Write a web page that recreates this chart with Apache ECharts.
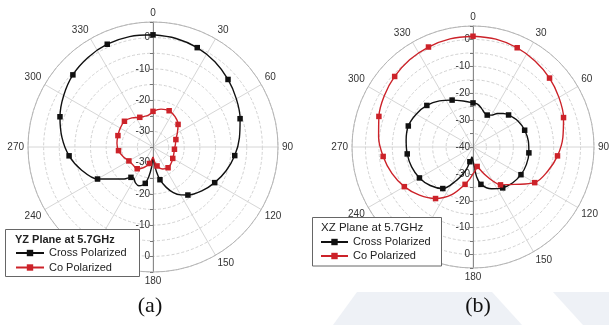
<!DOCTYPE html>
<html><head><meta charset="utf-8">
<script src="https://cdn.jsdelivr.net/npm/echarts@6/dist/echarts.min.js"></script>
<style>html,body{margin:0;padding:0;background:#fff}#c{width:609px;height:325px}</style>
</head><body><div id="c"></div>
<script>
// ---- Data (dB vs angle in degrees) ----
const angleTicks = [0,30,60,90,120,150,180,210,240,270,300,330];
const radialLabelsA = [-30,-20,-10,0];
const radialLabelsB = [-40,-30,-20,-10,0];

// (a) YZ plane
const yzCrossAngles = [0,12,24,36,48,60,72,84,96,108,120,132,144,150,156,162,168,172,176,180,184,188,192,196,200,206,212,216,222,231,240,252,264,276,288,300,312,324,336,348,360];
const yzCrossDb     = [0.9,0.5,-0.2,-1.3,-2.7,-4.2,-5.7,-7.2,-8.7,-10.4,-12.2,-14,-16,-17.3,-19,-21.5,-24.3,-27,-30,-31.5,-28.5,-25.5,-23.1,-22.2,-21.8,-22.2,-23.3,-23,-21.2,-18.7,-14.5,-11,-8,-5.7,-3.7,-2,-0.5,0.4,1.0,1.1,0.9];
const yzCoAngles = [0,12,24,36,48,60,72,84,96,108,120,132,144,156,168,174,180,186,192,200,208,216,228,240,252,264,276,288,300,312,324,336,344,350,356,360];
const yzCoDb     = [-23.6,-22.6,-22.3,-23,-24.2,-26,-27.3,-27.8,-28.1,-28,-27.7,-27.2,-26.8,-27.3,-28.8,-30.2,-31.7,-30.8,-29.6,-28.4,-27.3,-26.4,-26.4,-26.1,-25,-23.9,-23.4,-23.2,-22.9,-22.7,-23.5,-24.6,-24.8,-24.8,-24.3,-23.6];

// (b) XZ plane
const xzCrossAngles = [0,6,12,18,24,30,36,42,48,60,72,84,96,108,120,132,144,156,168,173,176,180,186,190,192,196,200,206,216,228,240,252,264,276,288,300,312,324,336,348,360];
const xzCrossDb     = [-23.6,-24,-25.2,-26.5,-27,-26.3,-24.6,-23.2,-22.2,-20.7,-19.8,-19.3,-19.1,-19.1,-19.4,-20.1,-21.2,-23,-25.8,-28.8,-32.6,-34.8,-36.3,-35,-34.4,-31.6,-29.5,-26.3,-20.9,-18.6,-17,-16,-15.4,-15,-14.7,-15.6,-16.9,-18.8,-20.9,-22.5,-23.6];
const xzCoAngles = [0,12,24,36,48,60,72,84,96,108,120,132,144,150,156,162,168,172,176,180,186,192,204,216,228,240,252,264,276,288,300,312,324,336,348,360];
const xzCoDb     = [1.2,1.0,0.4,-0.6,-1.7,-3.1,-4.6,-6.4,-8.4,-10.8,-13.5,-19.2,-22.6,-25.5,-28.5,-31,-32.6,-31.8,-30.8,-30,-28,-25.8,-20.6,-16.3,-13.2,-10.5,-8.3,-6.4,-4.7,-3.2,-1.9,-0.8,0.1,0.7,1.1,1.2];

const seriesNames = ['Cross Polarized','Co Polarized'];
const legendTitles = ['YZ Plane at 5.7GHz','XZ Plane at 5.7GHz'];
const captions = ['(a)','(b)'];

// ---- Build ----
const FONT = '"Liberation Sans", Arial, sans-serif';
const BLACK = '#111111', RED = '#cc2229';
function pairs(angles, vals){ return angles.map((a,i)=>[vals[i], a]); }
function markSize(v){ return (v[1] % 24 === 0 && v[1] < 360) ? 5.5 : 0; }

function angleAxis(pi, show, start){
  return {
    polarIndex: pi, type:'value', min:0, max:360, interval:30, startAngle:start, clockwise:true, show: show,
    axisLine:{show:true, lineStyle:{color:'#b5b5b5', width:1}},
    axisTick:{show:false},
    axisLabel:{show:true, margin:4, color:'#333', fontSize:10, fontFamily:FONT,
      formatter: v => angleTicks.includes(v) ? String(v) : ''},
    splitLine:{show:true, lineStyle:{color:'#d6d6d6', width:1}}
  };
}
function radiusAxis(pi, min, max, labels, bottom, grid){
  return {
    polarIndex: pi, type:'value', min:min, max:max, interval:5,
    axisLine:{show:true, lineStyle:{color:'#8a8a8a', width:1}},
    axisTick:{show:true, length: bottom ? -3 : 3, lineStyle:{color:'#777'}},
    axisLabel:{show:true, margin: bottom ? -3 : 3, align:'right', verticalAlign:'middle', color:'#333', fontSize:10, fontFamily:FONT,
      formatter: v => (labels.includes(v) && !(bottom && v===min)) ? String(v) : ''},
    splitLine:{show:grid, lineStyle:{color:'#d2d2d2', type:[3,2], width:1}}
  };
}
function lineSeries(name, pi, data, color){
  return {
    name:name, type:'line', coordinateSystem:'polar', polarIndex:pi, data:data,
    smooth:0.35, symbol:'rect', symbolSize: markSize, showAllSymbol:true,
    lineStyle:{color:color, width:1.4}, itemStyle:{color:color}, z:5, animation:false
  };
}

const option = {
  animation:false,
  backgroundColor:'#fff',
  polar:[
    {center:[153,147], radius:125},
    {center:[153,147], radius:125},
    {center:[473,147], radius:121},
    {center:[473,147], radius:121}
  ],
  angleAxis:[
    angleAxis(0, true, 90),
    angleAxis(1, false, 270),
    angleAxis(2, true, 90),
    angleAxis(3, false, 270)
  ],
  radiusAxis:[
    radiusAxis(0, -35, 5, radialLabelsA, false, true),
    radiusAxis(1, -35, 5, radialLabelsA, true, false),
    radiusAxis(2, -40, 5, radialLabelsB, false, true),
    radiusAxis(3, -40, 5, radialLabelsB, true, false)
  ],
  legend:[
    {left:15, top:246, orient:'vertical', padding:0, itemWidth:28, itemHeight:8, itemGap:0.5,
     textStyle:{fontSize:11, color:'#222', fontFamily:FONT, lineHeight:14}, data:seriesNames, selectedMode:false, z:10},
    {left:320, top:235, orient:'vertical', padding:0, itemWidth:27, itemHeight:8, itemGap:0,
     textStyle:{fontSize:11, color:'#222', fontFamily:FONT, lineHeight:14}, data:seriesNames, selectedMode:false, z:10}
  ],
  graphic:[
    {type:'polygon', z:-10, shape:{points:[[357,292],[492,292],[522,325],[333,325]]}, style:{fill:'#eef1f6'}},
    {type:'polygon', z:-10, shape:{points:[[553,292],[609,292],[609,325],[583,325]]}, style:{fill:'#eef1f6'}},
    {type:'rect', z:8, shape:{x:5.5, y:229.5, width:134, height:47}, style:{fill:'#fff', stroke:'#666', lineWidth:1}},
    {type:'rect', z:8, shape:{x:312.5, y:217.5, width:129, height:48.5}, style:{fill:'#fff', stroke:'#666', lineWidth:1}},
    {type:'text', z:9, x:15, y:239.5, style:{text:legendTitles[0], font:'bold 11px '+FONT, fill:'#222', textVerticalAlign:'middle'}},
    {type:'text', z:9, x:321, y:228, style:{text:legendTitles[1], font:'11.5px '+FONT, fill:'#222', textVerticalAlign:'middle'}},
    {type:'text', z:9, x:150, y:306, style:{text:captions[0], font:'22px "Liberation Serif", "Times New Roman", serif', fill:'#111', textAlign:'center', textVerticalAlign:'middle'}},
    {type:'text', z:9, x:478, y:306, style:{text:captions[1], font:'22px "Liberation Serif", "Times New Roman", serif', fill:'#111', textAlign:'center', textVerticalAlign:'middle'}}
  ],
  series:[
    lineSeries(seriesNames[0], 0, pairs(yzCrossAngles, yzCrossDb), BLACK),
    lineSeries(seriesNames[1], 0, pairs(yzCoAngles, yzCoDb), RED),
    lineSeries(seriesNames[0], 2, pairs(xzCrossAngles, xzCrossDb), BLACK),
    lineSeries(seriesNames[1], 2, pairs(xzCoAngles, xzCoDb), RED)
  ]
};
const chart = echarts.init(document.getElementById('c'), null, {renderer:'canvas'});
chart.setOption(option);
</script></body></html>
